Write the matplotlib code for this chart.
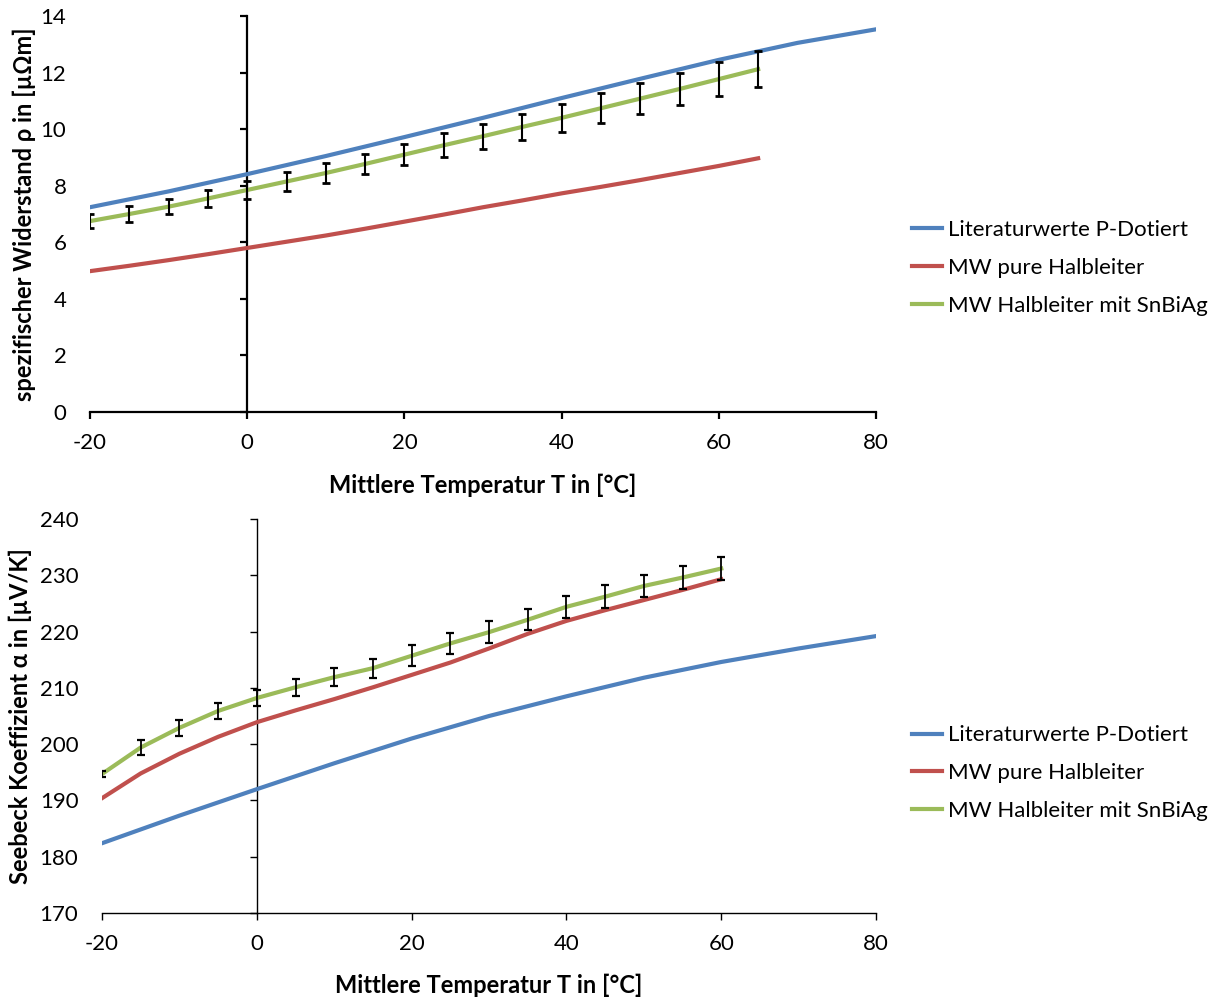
import matplotlib
matplotlib.use("Agg")
import matplotlib.pyplot as plt
import numpy as np

plt.rcParams['font.family'] = ['Lato', 'DejaVu Sans']
plt.rcParams['axes.unicode_minus'] = False

# ---- Daten: spezifischer Widerstand ----
T_lit_rho = [-20, -10, 0, 10, 20, 30, 40, 50, 60, 70, 80]
rho_lit = [7.24, 7.80, 8.41, 9.05, 9.72, 10.40, 11.10, 11.78, 12.45, 13.05, 13.53]

T_rho = [-20, -15, -10, -5, 0, 5, 10, 15, 20, 25, 30, 35, 40, 45, 50, 55, 60, 65]
rho_pure = [4.98, 5.17, 5.37, 5.58, 5.80, 6.02, 6.24, 6.48, 6.73, 6.98, 7.24, 7.48, 7.73,
            7.96, 8.20, 8.45, 8.70, 8.97]
rho_snbiag = [6.75, 7.00, 7.26, 7.55, 7.85, 8.15, 8.45, 8.77, 9.10, 9.43, 9.75, 10.08, 10.40,
              10.74, 11.08, 11.42, 11.77, 12.12]
rho_err = [0.25, 0.27, 0.27, 0.30, 0.32, 0.33, 0.35, 0.36, 0.38, 0.42, 0.45, 0.47, 0.50,
           0.53, 0.56, 0.58, 0.60, 0.63]

# ---- Daten: Seebeck Koeffizient ----
T_lit_alpha = [-20, -10, 0, 10, 20, 30, 40, 50, 60, 70, 80]
alpha_lit = [182.4, 187.3, 192.0, 196.6, 201.0, 205.0, 208.5, 211.8, 214.6, 217.0, 219.2]

T_alpha = [-20, -15, -10, -5, 0, 5, 10, 15, 20, 25, 30, 35, 40, 45, 50, 55, 60]
alpha_pure = [190.4, 194.8, 198.3, 201.3, 203.9, 206.0, 208.0, 210.1, 212.3, 214.5, 217.0,
              219.6, 221.9, 223.8, 225.6, 227.4, 229.3]
alpha_snbiag = [194.7, 199.4, 202.9, 205.9, 208.2, 210.1, 211.9, 213.5, 215.7, 217.9, 219.9,
                222.1, 224.4, 226.2, 228.1, 229.6, 231.2]
alpha_err = [0.6, 1.3, 1.4, 1.4, 1.5, 1.5, 1.6, 1.7, 1.85, 1.9, 1.9, 1.9, 2.0, 2.0, 2.0, 2.1, 2.0]

labels = ['Literaturwerte P-Dotiert', 'MW pure Halbleiter', 'MW Halbleiter mit SnBiAg']
colors = ['#4F81BD', '#C0504D', '#9BBB59']

xlabel = 'Mittlere Temperatur T in [°C]'


def style_axis(ax, spine_lw, ylim, yticks, ylab_x, legend_y):
    ax.set_xlim(-20, 80)
    ax.set_xticks(np.arange(-20, 81, 20))
    ax.set_ylim(*ylim)
    ax.set_yticks(yticks)
    ax.spines['top'].set_visible(False)
    ax.spines['left'].set_visible(False)
    # y-Achse liegt bei T = 0, Beschriftung bleibt links aussen
    ax.spines['right'].set_position(('data', 0))
    ax.spines['right'].set_linewidth(spine_lw)
    ax.spines['bottom'].set_linewidth(spine_lw)
    ax.tick_params(axis='y', which='both', left=False, right=True, labelleft=True,
                   labelright=False, direction='in', length=5, width=spine_lw,
                   labelsize=16, pad=17)
    ax.tick_params(axis='x', direction='out', length=5, width=spine_lw, labelsize=16, pad=10)
    ax.set_xlabel(xlabel, fontsize=17, fontweight='bold')
    ax.xaxis.set_label_coords(0.5, -0.155)
    ax.yaxis.set_label_coords(ylab_x, 0.5)
    ax.legend(loc='center left', bbox_to_anchor=(1.02, legend_y), frameon=False, fontsize=16,
              handlelength=1.35, handletextpad=0.3, labelspacing=0.8)


fig = plt.figure(figsize=(12.23, 10.01), dpi=100)

# oberes Diagramm
ax1 = fig.add_axes([0.0736, 0.5884, 0.6427, 0.3956])
ax1.plot(T_lit_rho, rho_lit, color=colors[0], lw=3, label=labels[0], zorder=3)
ax1.plot(T_rho, rho_pure, color=colors[1], lw=3, label=labels[1], zorder=3)
ax1.plot(T_rho, rho_snbiag, color=colors[2], lw=3, label=labels[2], zorder=3)
ax1.errorbar(T_rho, rho_snbiag, yerr=rho_err, fmt='none', ecolor='black', elinewidth=1.5,
             capsize=3, capthick=2, zorder=4)
ax1.set_ylabel('spezifischer Widerstand ρ in [µΩm]', fontsize=17, fontweight='bold')
style_axis(ax1, 1.6, (0, 14), np.arange(0, 15, 2), -0.069, 0.364)

# unteres Diagramm
ax2 = fig.add_axes([0.0834, 0.0879, 0.6329, 0.3936])
ax2.plot(T_lit_alpha, alpha_lit, color=colors[0], lw=3, label=labels[0], zorder=3)
ax2.plot(T_alpha, alpha_pure, color=colors[1], lw=3, label=labels[1], zorder=3)
ax2.plot(T_alpha, alpha_snbiag, color=colors[2], lw=3, label=labels[2], zorder=3)
ax2.errorbar(T_alpha, alpha_snbiag, yerr=alpha_err, fmt='none', ecolor='black', elinewidth=1.3,
             capsize=3, capthick=1.6, zorder=4)
ax2.set_ylabel('Seebeck Koeffizient α in [µV/K]', fontsize=17, fontweight='bold')
style_axis(ax2, 1.0, (170, 240), np.arange(170, 241, 10), -0.09, 0.355)

fig.savefig('out.png', dpi=100)
